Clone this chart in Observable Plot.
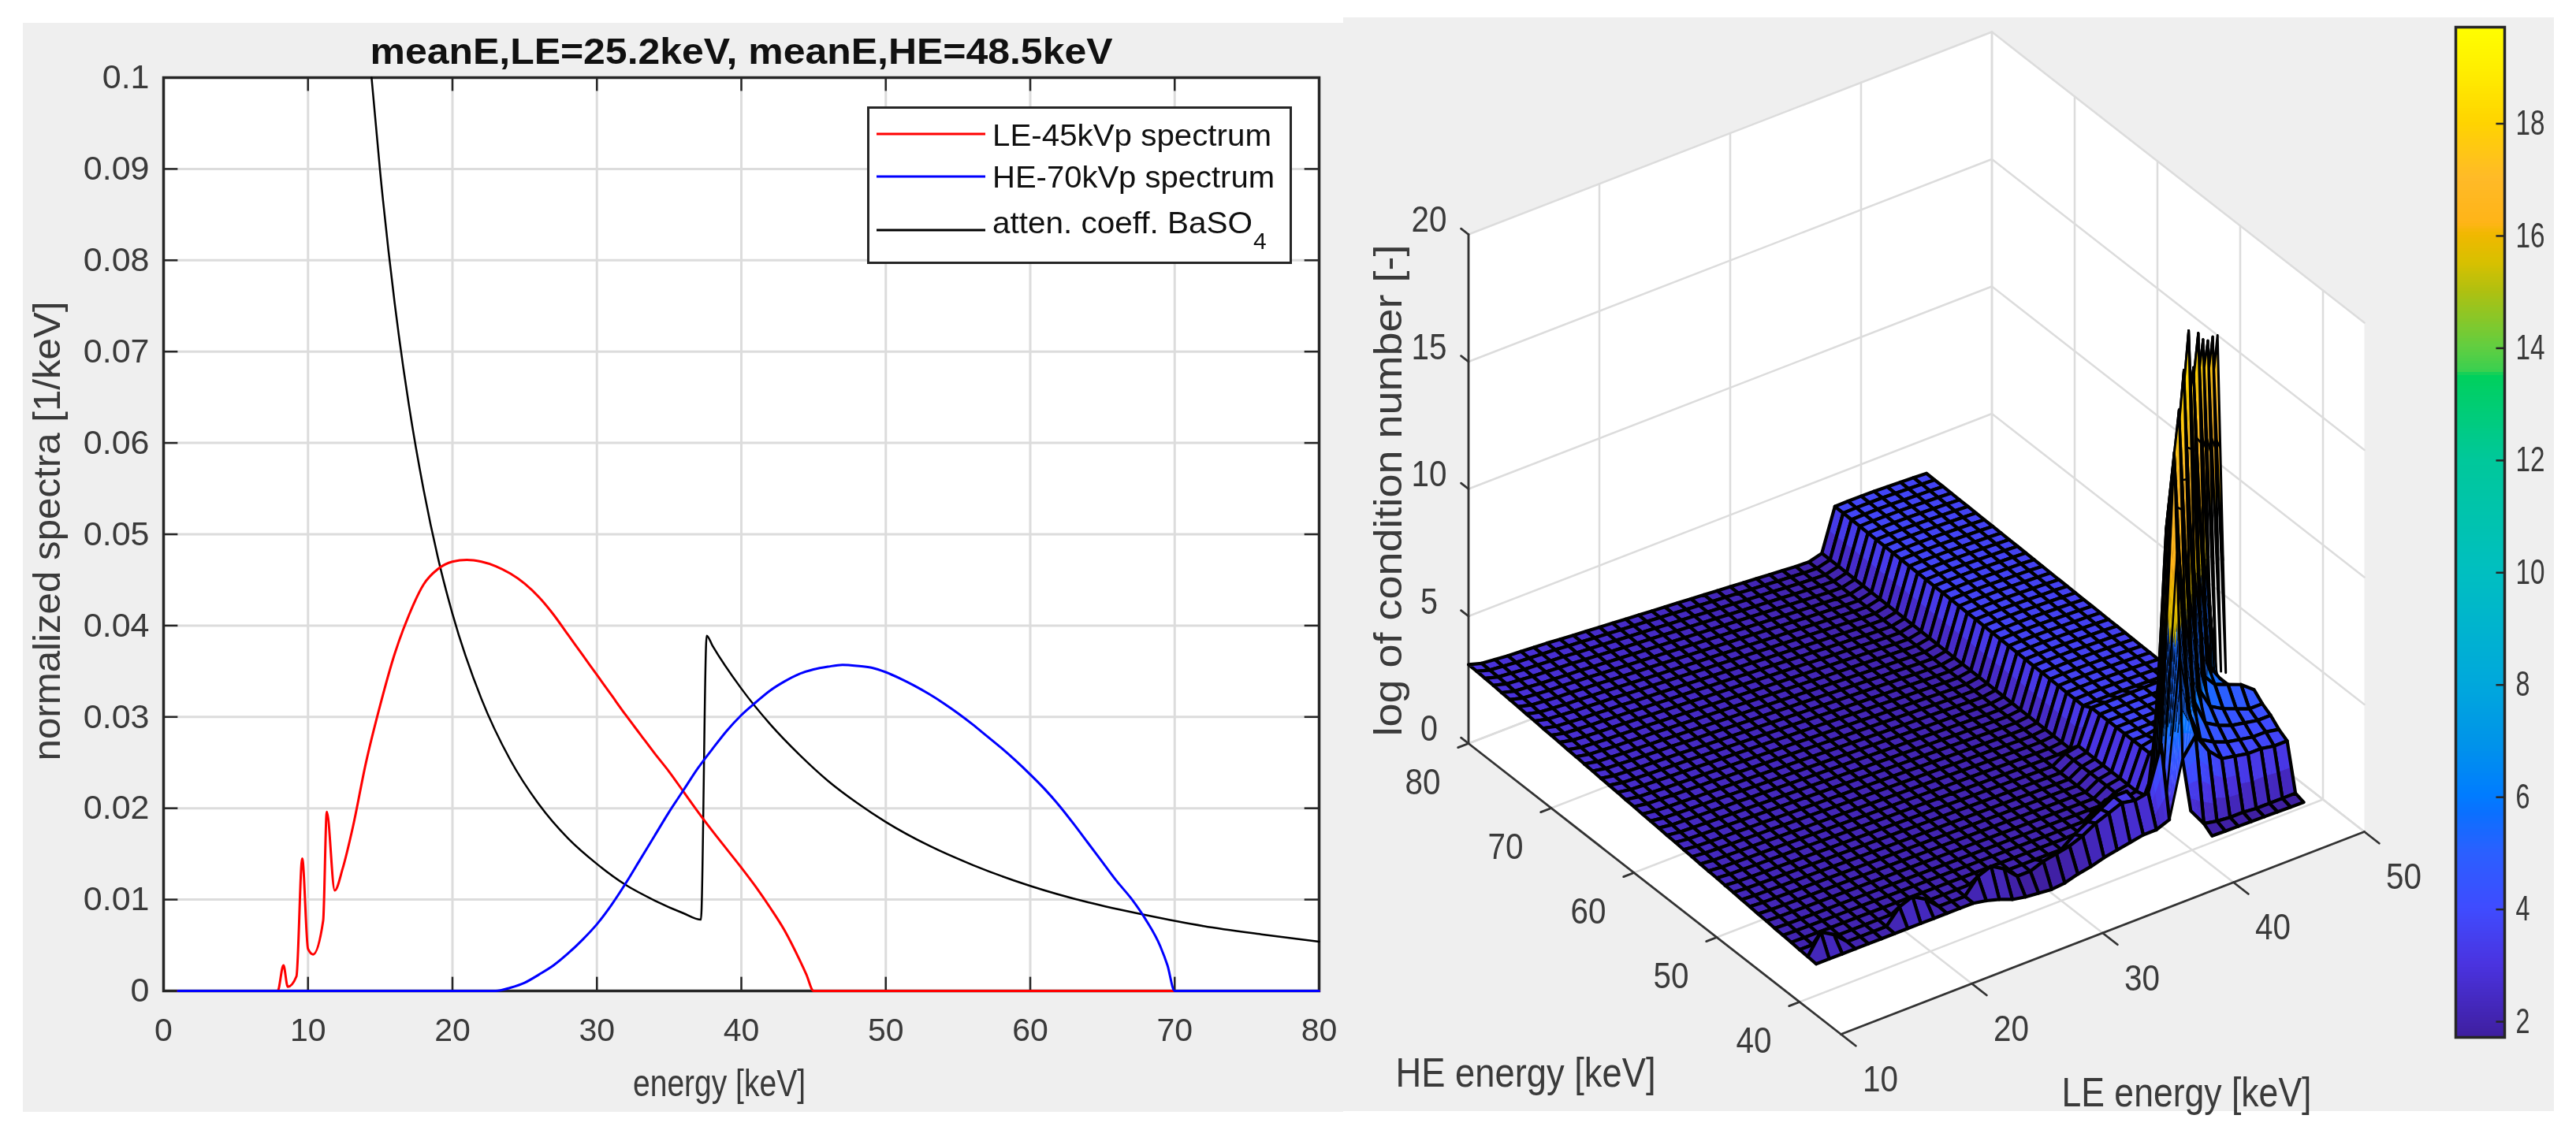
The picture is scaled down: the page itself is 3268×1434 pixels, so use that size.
<!DOCTYPE html>
<html>
<head>
<meta charset="utf-8">
<script src="https://cdn.jsdelivr.net/npm/d3@7"></script>
<script src="https://cdn.jsdelivr.net/npm/@observablehq/plot@0.6"></script>
<style>
  html,body{margin:0;padding:0;background:#fff;width:3268px;height:1434px;overflow:hidden;position:relative;font-family:"Liberation Sans",Arial,sans-serif}
  .panel{position:absolute;background:#efefef}
  svg{position:absolute;filter:blur(0.6px)}
</style>
</head>
<body>
<div class="panel" style="left:29px;top:29px;width:1675px;height:1382px"></div>
<div class="panel" style="left:1704px;top:22px;width:1536px;height:1388px"></div>
<script>
// ---------- left panel: spectra ----------
const chartTitle = "meanE,LE=25.2keV, meanE,HE=48.5keV";
const xLabel = "energy [keV]";
const yLabel = "normalized spectra [1/keV]";
const xTicks = [0,10,20,30,40,50,60,70,80];
const yTicks = [0,0.01,0.02,0.03,0.04,0.05,0.06,0.07,0.08,0.09,0.1];

const redE = [1,7.9,8.3,8.6,9.2,9.6,10,10.35,11.05,11.3,11.85,12.4,13.1,14,15,16,17,18,19,20,21,22,23,24,25,26,27,28,29,30,31,32,33,34,35,36,37,38,39,40,41,42,43,44,44.5,45,80];
const redV = [0,0,0.0028,0.00045,0.0016,0.0145,0.0046,0.004,0.0077,0.0196,0.011,0.0134,0.0179,0.0249,0.0313,0.0369,0.0412,0.0445,0.0462,0.047,0.0472,0.047,0.0465,0.0457,0.0446,0.0431,0.0412,0.039,0.0368,0.0346,0.0324,0.0302,0.0281,0.026,0.024,0.0218,0.0196,0.0175,0.0155,0.0135,0.0114,0.0091,0.0066,0.0035,0.0018,0,0];
const blueE = [1,23,24,25,26,27,28,29,30,31,32,33,34,35,36,37,38,39,40,41,42,43,44,45,46,47,48,49,50,51,52,53,54,55,56,57,58,59,60,61,62,63,64,65,66,67,68,69,69.5,70,80];
const blueV = [0,0,0.00035,0.0009,0.0018,0.0028,0.0041,0.0056,0.0073,0.0094,0.0118,0.0144,0.017,0.0196,0.022,0.0244,0.0265,0.0285,0.0302,0.0316,0.0329,0.0339,0.0347,0.0352,0.0355,0.0357,0.0356,0.0354,0.0349,0.0342,0.0334,0.0325,0.0315,0.0304,0.0292,0.0279,0.0266,0.0252,0.0237,0.0221,0.0203,0.0183,0.0162,0.0141,0.012,0.0101,0.0078,0.0049,0.0028,0,0];
const blackE = [14.4,15,16,17,18,19,20,22,24,26,28,30,32,34,36,37.2,37.6,38,40,42,44,46,48,50,53,56,60,64,68,72,76,80];
const blackV = [0.1,0.0896,0.0753,0.064,0.0549,0.0474,0.0413,0.032,0.0253,0.0204,0.0167,0.0139,0.0116,0.0099,0.0085,0.0078,0.0389,0.0378,0.0331,0.0292,0.0259,0.023,0.0206,0.0185,0.0159,0.0138,0.0115,0.0097,0.0083,0.0071,0.0062,0.0054];

// ---------- right panel: surface ----------
const surfaceYLabel = "log of condition number [-]";
const heLabel = "HE energy [keV]";
const leLabel = "LE energy [keV]";
const leTicks = [10,20,30,40,50];
const heTicks = [40,50,60,70,80];
const zTicks = [0,5,10,15,20];
const barTicks = [2,4,6,8,10,12,14,16,18];

// z along the HE=80 edge for LE = 10..37
const floorBack = [3.1,2.95,2.9,2.85,2.82,2.78,2.75,2.7,2.66,2.62,2.58,2.54,2.5,2.46,2.42,2.38,2.34,2.3,2.26,2.22,2.18,2.14,2.1,2.06,2.02,1.98,1.96,2.1];
// z along the plateau at HE=80 for LE = 38..45
const plateauBack = [3.74,3.75,3.75,3.74,3.72,3.7,3.68,3.65];
// share of the back-edge rise reached at HE = 38..80
const heRise = [0,.03,.05,.08,.1,.12,.15,.17,.2,.22,.25,.27,.3,.32,.34,.37,.39,.42,.44,.47,.49,.51,.54,.56,.59,.61,.63,.66,.68,.71,.73,.76,.78,.8,.83,.85,.88,.9,.92,.95,.97,.99,1];
// front row HE=38 for LE = 10..35
const frontRow = [2,2,2,2,2,2,2,2,2,2,2,2,2,1.9,1.75,1.55,1.45,1.4,1.35,1.4,1.55,1.65,1.8,1.9,2,2.1];
// isolated bumps near the front: [LE, HE, z]
const frontBumps = [[11,39,2.8],[12,39,2.5],[17,39,2.6],[18,39,2.8],[19,39,2.5],[23,39,2.6],[24,39,2.8],[25,39,2.5],[28,39,2.2],[29,39,2.3],[30,39,2.4],[31,39,2.6],[32,39,2.9],[33,39,3.1],[34,39,3.3],[35,39,3.2],[31,40,2.4],[32,40,2.7],[33,40,3],[34,40,3.3],[35,40,3.3],[33,41,2.6],[34,41,2.9],[35,41,2.9]];
// region around the ridge: rows HE = 36..49, columns LE = 36..48
const n = null;
const ridgeTable = [
 [n,n,n,1.77,1.76,1.75,1.74,1.73,1.72,1.71,1.70,n,n],
 [n,n,2.7,2.0,1.9,1.85,1.85,1.8,1.8,1.8,1.8,n,n],
 [2.1,2.3,4.5,5.2,4.4,3.9,3.8,3.7,3.7,3.6,3.6,n,n],
 [3.3,5,16.3,6,4.6,4.3,4.1,4,3.9,3.9,3.8,n,n],
 [2.4,3.2,13,17.5,6,4.8,4.5,4.3,4.2,4.1,4.1,n,n],
 [2.3,2.5,3.7,13,18.6,6,5,4.7,4.5,4.3,4.3,n,n],
 [2.3,2.4,3.7,3.9,14,19.7,6,5.4,5.2,5,4.6,n,n],
 [2.3,2.4,3.7,3.8,4.2,14,17.8,6,5.2,n,n,n,n],
 [2.3,2.4,3.7,3.7,3.8,4.4,14,18.7,5.4,n,n,n,n],
 [2.3,2.4,3.7,3.7,3.7,3.8,4.5,14,18,4.6,n,n,n],
 [2.3,2.4,3.7,3.7,3.7,3.7,3.8,4.5,14,17.5,4.3,n,n],
 [2.3,2.4,3.7,3.7,3.7,3.7,3.7,3.8,4.5,13,17.2,3.8,n],
 [2.3,2.4,3.7,3.7,3.7,3.7,3.7,3.7,4,4.2,12,16.8,n],
 [2.3,2.4,3.7,3.7,3.7,3.7,3.7,3.7,3.7,3.6,4,n,n]
];
// colour bar stops
const colorStops = [1.72,3,4,5,5.7,6,7,8,10,12,13.5,13.55,14,15,15.5,16,16.2,17,18,19,19.72];
const colorValues = ["#3f1fa0","#4a33e0","#3f4cff","#2a60ff","#0a70ff","#007cff","#0095e8","#00a8dc","#00bfc0","#00c89a","#00d05c","#38d050","#62ce40","#b0c010","#d8c000","#f0b800","#ffb418","#ffba28","#ffd400","#fff000","#ffff00"];

const FONT = "Liberation Sans";
const INK = "#3a3a3a";

function fit(svg, pairs){
  svg.querySelectorAll("text").forEach(t=>{
    const k = t.textContent;
    if (pairs[k]!=null){ t.setAttribute("textLength",pairs[k]); t.setAttribute("lengthAdjust","spacingAndGlyphs"); }
  });
}
function place(svg,left,top){ svg.style.left=left+"px"; svg.style.top=top+"px"; document.body.append(svg); }

// ---- left plot
const toRows = (E,V)=>E.map((e,i)=>({e,v:V[i]}));
const left = Plot.plot({
  width:1704,height:1434,marginLeft:207,marginRight:31,marginTop:98,marginBottom:177,
  style:{background:"transparent",fontFamily:FONT,overflow:"visible"},
  x:{domain:[0,80],axis:null},y:{domain:[0,0.1],axis:null},
  marks:[
    Plot.frame({fill:"white",stroke:"none"}),
    Plot.ruleX(xTicks.slice(1,-1),{stroke:"#dcdcdc",strokeWidth:3}),
    Plot.ruleY(yTicks.slice(1,-1),{stroke:"#dcdcdc",strokeWidth:3}),
    Plot.ruleX(xTicks,{x:d=>d,y1:0,y2:0.0015,stroke:"#262626",strokeWidth:2.5}),
    Plot.ruleX(xTicks,{x:d=>d,y1:0.1,y2:0.0985,stroke:"#262626",strokeWidth:2.5}),
    Plot.ruleY(yTicks,{y:d=>d,x1:0,x2:1,stroke:"#262626",strokeWidth:2.5}),
    Plot.ruleY(yTicks,{y:d=>d,x1:80,x2:79,stroke:"#262626",strokeWidth:2.5}),
    Plot.frame({stroke:"#262626",strokeWidth:3.5}),
    Plot.line(toRows(blackE,blackV),{x:"e",y:"v",stroke:"black",strokeWidth:2.5,curve:"monotone-x"}),
    Plot.line(toRows(redE,redV),{x:"e",y:"v",stroke:"#ff0000",strokeWidth:3,curve:"monotone-x"}),
    Plot.line(toRows(blueE,blueV),{x:"e",y:"v",stroke:"#0000ff",strokeWidth:3,curve:"monotone-x"}),
    Plot.axisX(xTicks,{anchor:"bottom",tickSize:0,tickPadding:34,fontSize:41,label:null,fill:INK}),
    Plot.axisY(yTicks,{anchor:"left",tickSize:0,tickPadding:18,fontSize:43,label:null,tickFormat:d=>String(d),fill:INK}),
    Plot.text([chartTitle],{frameAnchor:"top",dy:-18,lineAnchor:"bottom",fontSize:46,fontWeight:"bold",fill:"#111"}),
    Plot.text([xLabel],{frameAnchor:"bottom",dy:133,lineAnchor:"bottom",fontSize:49,fill:INK,dx:-28}),
    Plot.text([yLabel],{frameAnchor:"left",textAnchor:"middle",rotate:-90,dx:-147,dy:-4,fontSize:48,fill:INK})
  ]
});
fit(left,{[chartTitle]:942,[xLabel]:219,[yLabel]:583});
place(left,0,0);

// legend
const legendRows = [
 {name:"LE-45kVp spectrum",c:"#ff0000",y:170,b:185,w:354},
 {name:"HE-70kVp spectrum",c:"#0000ff",y:224,b:238,w:358}
];
const lg = document.createElementNS("http://www.w3.org/2000/svg","svg");
lg.setAttribute("width",540);lg.setAttribute("height",200);
lg.innerHTML = `<rect x="1.5" y="1.5" width="536" height="197" fill="white" stroke="#262626" stroke-width="3"/>`+
 legendRows.map(r=>`<line x1="12" x2="150" y1="${r.y-135}" y2="${r.y-135}" stroke="${r.c}" stroke-width="3"/><text x="159" y="${r.b-135}" font-family="${FONT}" font-size="39" fill="#111" textLength="${r.w}" lengthAdjust="spacingAndGlyphs">${r.name}</text>`).join("")+
 `<line x1="12" x2="150" y1="157" y2="157" stroke="black" stroke-width="3"/><text x="159" y="161" font-family="${FONT}" font-size="39" fill="#111" textLength="330" lengthAdjust="spacingAndGlyphs">atten. coeff. BaSO</text><text x="490" y="181" font-family="${FONT}" font-size="30" fill="#111">4</text>`;
place(lg,1100,135);

// ---- 3D view
const LEmin=10, LEmax=50, HEmin=35, HEmax=80, Zmax=20;
function view(le,he,z){
  const u=(le-LEmin)/(LEmax-LEmin), v=(he-HEmin)/(HEmax-HEmin), w=z/Zmax;
  return {X:0.664*u-0.4725*v, Y:0.257*u+0.369*v+0.646*w};
}
function zAt(le,he){
  if (he>=36 && he<=49 && le>=36 && le<=48) return ridgeTable[he-36][le-36];
  if (he<38 || le>45 || le<10 || he>80) return null;
  const b = frontBumps.find(d=>d[0]===le && d[1]===he);
  if (b) return b[2];
  if (he===38 && le<=35) return frontRow[le-10];
  const r = heRise[he-38];
  if (le<=37) return 2+(floorBack[le-10]-2)*r;
  return plateauBack[le-38]-0.3*(1-r);
}
const rows=[];
let gid=0;
function pushPoly(pts,v,fo,so,sw){
  const id=gid++;
  for(const p of pts){ const q=view(p[0],p[1],p[2]); rows.push({X:q.X,Y:q.Y,id,v,fo,so,sw}); }
}
// the tall walls of the ridge read gold above a dark band in the picture
function wallTone(v){
  if (v<6) return {v,so:0,sw:1};
  if (v<9.5) return {v:5.4,so:0.8,sw:1.5};
  return {v:15.5+(v-9.5)*0.3,so:0,sw:1};
}
for(let le=47;le>=10;le--){
  for(let he=79;he>=36;he--){
    const a=zAt(le,he),b=zAt(le+1,he),c=zAt(le+1,he+1),d=zAt(le,he+1);
    if(a==null||b==null||c==null||d==null) continue;
    const lo=Math.min(a,b,c,d),hi=Math.max(a,b,c,d);
    const ring=[[le,he,a],[le+1,he,b],[le+1,he+1,c],[le,he+1,d],[le,he,a]];
    const mean=(a+b+c+d)/4;
    if(hi-lo>1.5){
      const m=Math.min(12,Math.ceil((hi-lo)/1));
      const bil=(s,t)=>(a*(1-s)*(1-t)+b*s*(1-t)+c*s*t+d*(1-s)*t);
      for(let i=0;i<m;i++)for(let j=0;j<m;j++){
        const s0=i/m,s1=Math.min(1,(i+1.15)/m),t0=j/m,t1=Math.min(1,(j+1.15)/m);
        const tone=wallTone(bil((s0+s1)/2,(t0+t1)/2));
        pushPoly([[le+s0,he+t0,bil(s0,t0)],[le+s1,he+t0,bil(s1,t0)],[le+s1,he+t1,bil(s1,t1)],[le+s0,he+t1,bil(s0,t1)]],tone.v,1,tone.so,tone.sw);
      }
      if(hi>8){ // the ridge's faces read as narrow stripes
        for(const t of [1/3,2/3]){
          const line=[];for(let k=0;k<=6;k++){const s=k/6;line.push([le+s,he+t,bil(s,t)]);}
          pushPoly(line,mean,0,1,2.6);
        }
      }
      pushPoly(ring,mean,0,1,hi>8?3:4.2);
    } else {
      pushPoly(ring,mean,1,1,4.2);
    }
  }
}
// walls, grid and axes as projected lines
function seg(list,pts){const id=list.n=(list.n||0)+1;for(const p of pts){const q=view(p[0],p[1],p[2]);list.push({X:q.X,Y:q.Y,id});}}
const walls=[];
seg(walls,[[10,35,0],[50,35,0],[50,80,0],[10,80,0]]);
seg(walls,[[10,80,0],[50,80,0],[50,80,20],[10,80,20]]);
seg(walls,[[50,35,0],[50,80,0],[50,80,20],[50,35,20]]);
const grid=[];
for(const t of leTicks){ if(t>10)seg(grid,[[t,35,0],[t,80,0]]); seg(grid,[[t,80,0],[t,80,20]]); }
for(const t of heTicks){ seg(grid,[[10,t,0],[50,t,0]]); seg(grid,[[50,t,0],[50,t,20]]); }
for(const t of zTicks){ seg(grid,[[10,80,t],[50,80,t],[50,35,t]]); }
const axes=[];
seg(axes,[[10,80,0],[10,80,20]]);
seg(axes,[[10,35,0],[10,80,0]]);
seg(axes,[[10,35,0],[50,35,0]]);
for(const t of leTicks) seg(axes,[[t,35,0],[t,33.2,0]]);
for(const t of heTicks) seg(axes,[[10,t,0],[9.2,t,0]]);
for(const t of zTicks) seg(axes,[[10,80,t],[10,80.9,t]]);

const heRows=heTicks.map(t=>({...view(10,t,0),t}));
const leRowsT=leTicks.map(t=>({...view(t,35,0),t}));
const zRows=zTicks.map(t=>({...view(10,80,t),t}));
const colorScale={type:"linear",domain:colorStops,range:colorValues,interpolate:"rgb",clamp:true};

const right = Plot.plot({
  width:1536,height:1434,margin:0,
  style:{background:"transparent",fontFamily:FONT,overflow:"visible"},
  x:{domain:[-0.631,0.905],range:[0,1536],axis:null},
  y:{domain:[1.312,-0.122],range:[0,1434],axis:null},
  color:colorScale,
  marks:[
    Plot.line(walls,{x:"X",y:"Y",z:"id",fill:"white",stroke:"none"}),
    Plot.line(grid,{x:"X",y:"Y",z:"id",stroke:"#dcdcdc",strokeWidth:2.5}),
    Plot.line(axes,{x:"X",y:"Y",z:"id",stroke:"#333",strokeWidth:2.8}),
    Plot.line(rows,{x:"X",y:"Y",z:"id",fill:"v",fillOpacity:"fo",stroke:"black",strokeOpacity:"so",strokeWidth:"sw",strokeLinejoin:"round"}),
    Plot.text(heRows,{x:"X",y:"Y",text:d=>String(d.t),dx:-58,dy:50,fontSize:46,fill:INK}),
    Plot.text(leRowsT,{x:"X",y:"Y",text:d=>String(d.t),dx:50,dy:58,fontSize:46,fill:INK}),
    Plot.text(zRows,{x:"X",y:"Y",text:d=>String(d.t),dx:-50,dy:-18,fontSize:46,fill:INK}),
    Plot.text([surfaceYLabel],{frameAnchor:"top-left",textAnchor:"start",dx:38,dy:934,rotate:-90,fontSize:50,fill:INK}),
    Plot.text([heLabel],{frameAnchor:"top-left",dx:66,dy:1342,fontSize:52,fill:INK}),
    Plot.text([leLabel],{frameAnchor:"top-left",dx:911,dy:1367,fontSize:52,fill:INK})
  ]
});
fit(right,{[surfaceYLabel]:624,[heLabel]:330,[leLabel]:317,"10":45,"20":45,"30":45,"40":45,"50":45,"60":45,"70":45,"80":45,"15":45,"0":22,"5":22});
place(right,1704,0);

// ---- colour bar
const barStep=0.05;
const barBins=d3.range(1.72,19.72,barStep);
const bar = Plot.plot({
  width:170,height:1434,marginLeft:35,marginRight:73,marginTop:34,marginBottom:118,
  style:{background:"transparent",fontFamily:FONT,overflow:"visible"},
  x:{domain:[0,1],axis:null},
  y:{domain:[1.72,19.72],axis:null},
  color:colorScale,
  marks:[
    Plot.rect(barBins,{x1:0,x2:1,y1:d=>d,y2:d=>Math.min(19.72,d+barStep*1.3),fill:d=>d,shapeRendering:"crispEdges"}),
    Plot.ruleY(barTicks,{y:d=>d,x1:0.83,x2:1,stroke:"#262626",strokeWidth:2.5}),
    Plot.frame({stroke:"#262626",strokeWidth:3.5}),
    Plot.axisY(barTicks,{anchor:"right",tickSize:0,tickPadding:14,fontSize:44,label:null,tickFormat:d=>String(d),fill:INK})
  ]
});
fit(bar,{"2":18,"4":18,"6":18,"8":18,"10":37,"12":37,"14":37,"16":37,"18":37});
place(bar,3080,0);
</script>
</body>
</html>
